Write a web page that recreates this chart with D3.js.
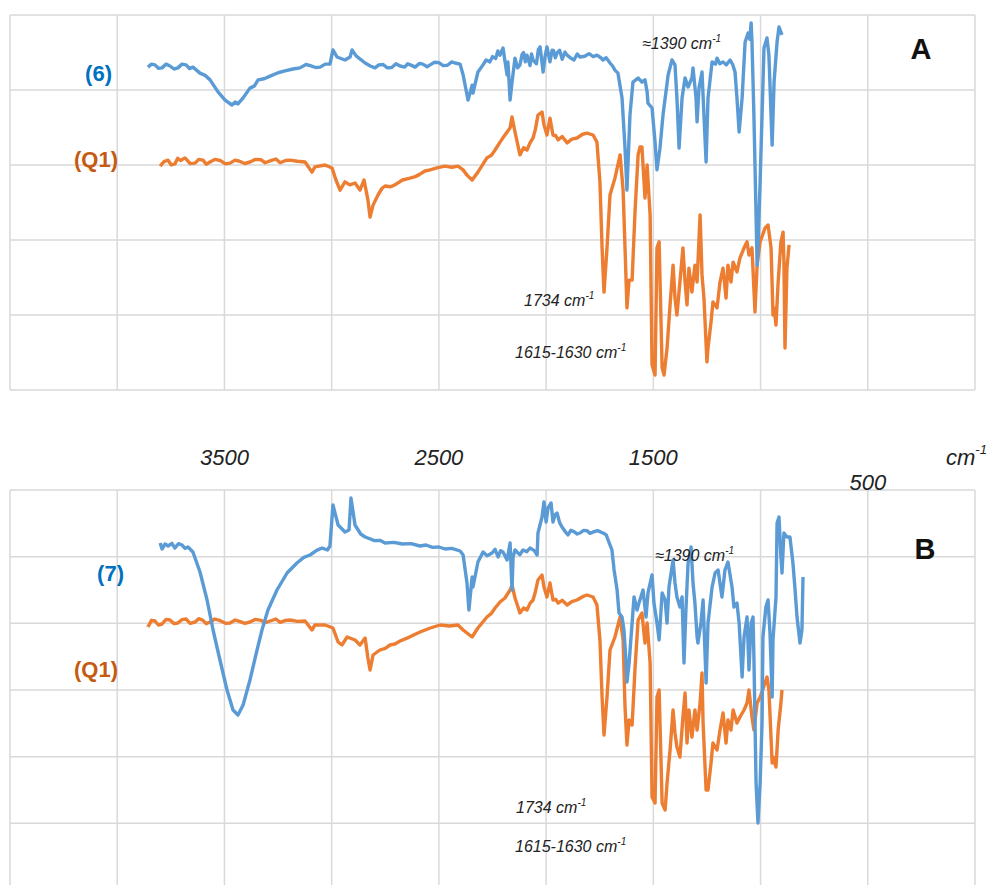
<!DOCTYPE html>
<html>
<head>
<meta charset="utf-8">
<script src="https://cdn.jsdelivr.net/npm/d3@7"></script>
<style>
  html, body { margin: 0; padding: 0; background: #fff; }
  svg { display: block; font-family: "Liberation Sans", Arial, sans-serif; }
</style>
</head>
<body>
<div id="chart"></div>
<script>
// wavenumber (cm-1), signal (arbitrary units, one grid band = 20)
const spectrum6 = [
  [3857,86.1],[3840,86.9],[3824,86.7],[3808,85.8],[3791,85.9],[3772,86.9],[3754,86.4],[3735,85.6],[3717,85.9],[3698,86.9],
  [3679,86.7],[3663,85.7],[3647,86.1],[3614,84.5],[3590,83.9],[3567,82.7],[3530,79.5],[3497,77.3],[3465,76.0],[3450,76.8],
  [3437,76.3],[3413,77.9],[3381,80.5],[3360,81.1],[3343,82.7],[3315,83.0],[3287,83.7],[3250,84.6],[3218,85.1],[3180,85.6],
  [3148,85.9],[3120,86.8],[3100,86.5],[3075,86.0],[3054,86.1],[3030,86.9],[3008,86.9],[2994,90.7],[2975,88.8],[2938,88.0],
  [2914,88.8],[2905,90.7],[2886,89.1],[2844,87.2],[2820,86.4],[2798,85.9],[2780,86.7],[2760,86.8],[2740,85.9],[2720,86.0],
  [2700,87.0],[2681,86.4],[2660,86.1],[2645,87.0],[2625,86.5],[2611,86.1],[2590,87.1],[2575,86.9],[2555,86.2],[2541,86.7],
  [2520,87.4],[2500,87.3],[2480,86.5],[2460,86.6],[2440,87.5],[2425,87.2],[2401,86.9],[2387,84.0],[2364,77.3],[2345,81.3],
  [2341,79.2],[2318,84.8],[2294,86.7],[2280,88.0],[2262,87.5],[2250,88.9],[2235,88.4],[2225,90.4],[2215,89.3],[2201,91.2],
  [2182,84.0],[2178,87.5],[2168,77.3],[2159,82.1],[2145,88.5],[2133,85.9],[2122,86.7],[2112,89.5],[2105,90.0],[2097,87.5],
  [2089,89.3],[2075,86.5],[2068,89.6],[2061,88.0],[2045,87.0],[2036,90.8],[2028,91.5],[2014,84.8],[2005,88.9],[1996,91.5],
  [1982,87.5],[1972,90.6],[1965,90.5],[1957,88.6],[1949,89.9],[1937,90.6],[1925,88.2],[1912,90.1],[1902,89.3],[1885,88.5],
  [1870,88.0],[1855,89.6],[1842,88.8],[1820,89.0],[1800,89.7],[1780,88.9],[1763,89.3],[1745,88.6],[1735,88.0],[1720,88.6],
  [1702,87.2],[1690,86.4],[1679,85.3],[1665,84.5],[1646,77.9],[1632,64.5],[1623,53.3],[1609,73.3],[1595,82.1],[1571,83.2],
  [1553,82.1],[1539,82.7],[1529,79.5],[1525,76.5],[1506,75.2],[1492,66.1],[1483,58.7],[1469,64.5],[1455,73.3],[1431,84.0],
  [1413,88.0],[1399,86.7],[1390,77.9],[1380,64.5],[1366,77.9],[1352,83.2],[1338,80.8],[1320,83.2],[1315,85.9],[1301,77.9],
  [1296,71.5],[1287,80.5],[1273,84.8],[1264,73.3],[1254,60.8],[1245,77.9],[1226,87.5],[1210,86.9],[1203,88.5],[1190,87.0],
  [1175,87.5],[1160,86.7],[1142,88.0],[1130,86.8],[1119,84.8],[1110,77.9],[1100,68.8],[1086,77.9],[1072,92.8],[1058,95.2],
  [1050,93.5],[1044,97.9],[1040,92.8],[1031,73.3],[1021,46.7],[1016,33.3],[1012,37.9],[1002,55.5],[993,73.3],[984,91.2],
  [970,93.9],[961,89.3],[951,73.3],[946,65.3],[937,82.1],[923,92.8],[914,96.8],[900,94.7]
];

const spectrumQ1a = [
  [3800,59.7],[3782,60.9],[3763,61.3],[3748,60.0],[3731,60.3],[3718,61.8],[3705,61.2],[3684,61.9],[3660,60.4],[3637,60.5],
  [3620,61.5],[3600,61.3],[3585,60.2],[3567,60.8],[3545,61.5],[3520,61.2],[3495,60.3],[3474,60.5],[3450,61.3],[3430,61.0],
  [3405,60.4],[3381,60.8],[3355,61.5],[3330,61.4],[3310,60.6],[3287,61.1],[3260,61.6],[3240,60.6],[3215,61.2],[3194,61.3],
  [3160,61.0],[3124,60.8],[3092,58.1],[3078,59.5],[3031,60.0],[2998,59.2],[2980,56.0],[2961,53.3],[2938,55.5],[2915,54.7],
  [2891,55.2],[2868,53.3],[2849,56.0],[2831,50.7],[2821,46.1],[2807,49.3],[2784,52.0],[2765,53.8],[2751,54.4],[2725,54.2],
  [2705,54.7],[2670,56.0],[2635,56.5],[2610,56.9],[2590,57.5],[2565,58.4],[2541,58.7],[2505,59.3],[2471,59.7],[2440,59.4],
  [2411,59.7],[2387,58.7],[2369,57.3],[2345,56.0],[2318,58.1],[2276,61.9],[2255,62.6],[2238,64.0],[2215,66.1],[2192,68.0],
  [2168,69.9],[2159,72.8],[2145,68.8],[2122,62.7],[2105,64.6],[2089,64.0],[2075,65.9],[2061,67.2],[2050,69.5],[2038,73.3],
  [2019,74.1],[2010,70.7],[1996,68.0],[1982,72.5],[1968,68.0],[1955,67.8],[1944,66.7],[1925,67.6],[1902,65.9],[1880,66.9],
  [1856,67.2],[1830,68.2],[1809,68.5],[1781,68.0],[1763,66.1],[1749,55.5],[1739,37.9],[1730,26.1],[1716,37.9],[1702,52.0],
  [1679,56.5],[1655,62.7],[1641,53.3],[1632,37.9],[1623,21.9],[1613,29.3],[1599,29.3],[1585,48.0],[1571,62.7],[1562,64.8],
  [1553,64.8],[1539,51.2],[1529,60.0],[1515,46.7],[1506,6.7],[1492,4.0],[1483,37.9],[1473,39.5],[1459,5.9],[1450,4.0],
  [1436,11.2],[1422,22.7],[1408,33.3],[1399,24.5],[1390,20.0],[1376,28.8],[1362,37.9],[1352,28.8],[1343,22.7],[1334,32.5],
  [1320,26.1],[1306,33.3],[1296,28.8],[1282,46.7],[1273,30.7],[1264,24.5],[1250,7.5],[1245,11.2],[1231,18.1],[1222,23.5],
  [1203,21.9],[1189,28.8],[1175,32.5],[1161,24.5],[1152,33.3],[1138,28.8],[1128,34.1],[1110,31.5],[1096,35.2],[1077,37.9],
  [1063,39.5],[1054,36.0],[1040,37.9],[1026,20.8],[1016,33.3],[1002,39.5],[979,43.2],[965,44.0],[951,37.9],[942,20.0],
  [937,21.9],[928,17.3],[918,28.8],[905,39.5],[895,42.1],[891,34.1],[886,11.2],[877,32.5],[867,38.7]
];

const spectrum7 = [
  [3800,104.1],[3791,102.3],[3777,103.8],[3763,103.2],[3745,104.0],[3731,102.6],[3714,103.9],[3698,103.5],[3684,102.5],[3670,102.9],
  [3647,101.4],[3614,95.4],[3581,87.0],[3553,78.0],[3521,69.0],[3488,60.0],[3460,54.0],[3437,52.5],[3413,55.5],[3381,63.0],
  [3348,72.0],[3325,78.0],[3297,84.0],[3255,90.0],[3208,95.1],[3162,98.1],[3130,99.8],[3101,100.5],[3070,101.9],[3045,102.6],
  [3020,102.0],[3008,103.2],[2994,115.5],[2970,109.5],[2938,107.4],[2919,108.0],[2910,117.6],[2891,109.5],[2865,106.8],[2844,105.9],
  [2800,104.8],[2775,104.9],[2751,104.1],[2710,104.3],[2670,103.8],[2630,103.9],[2588,103.2],[2560,103.5],[2530,102.8],[2500,102.9],
  [2471,102.3],[2440,102.5],[2401,101.7],[2387,100.5],[2369,92.1],[2360,84.0],[2345,93.9],[2341,90.9],[2318,98.4],[2294,101.4],
  [2275,100.3],[2252,101.1],[2238,102.2],[2224,99.9],[2212,101.8],[2201,101.4],[2182,99.0],[2168,104.1],[2159,90.0],[2154,99.9],
  [2145,102.0],[2136,101.4],[2122,100.6],[2108,102.0],[2090,101.5],[2075,102.6],[2055,101.8],[2042,100.5],[2038,107.1],[2019,111.9],
  [2010,116.4],[2000,110.4],[1991,114.6],[1977,116.1],[1968,110.4],[1958,112.6],[1949,113.1],[1937,110.2],[1926,108.9],[1912,107.6],
  [1898,106.5],[1885,107.9],[1870,107.5],[1855,106.8],[1842,107.1],[1825,107.9],[1810,107.8],[1795,107.0],[1781,107.4],[1760,107.8],
  [1735,107.1],[1720,106.6],[1711,105.0],[1693,102.0],[1683,96.0],[1669,90.0],[1660,83.1],[1646,81.9],[1637,78.0],[1627,68.1],
  [1623,62.4],[1613,68.1],[1599,80.1],[1590,87.9],[1576,84.0],[1567,86.1],[1548,90.0],[1534,81.9],[1525,89.1],[1506,94.5],
  [1497,86.1],[1483,80.1],[1473,75.0],[1459,89.1],[1445,87.0],[1436,80.1],[1427,90.9],[1408,99.0],[1399,92.1],[1390,87.9],
  [1376,84.9],[1366,87.9],[1357,68.1],[1348,84.0],[1338,98.1],[1324,102.9],[1315,92.1],[1306,86.1],[1296,75.9],[1292,74.1],
  [1278,80.1],[1268,87.0],[1254,62.1],[1245,80.1],[1226,90.9],[1212,95.1],[1198,96.0],[1180,87.9],[1166,96.0],[1152,98.4],
  [1133,90.9],[1124,84.9],[1110,86.1],[1100,80.1],[1086,63.9],[1077,75.9],[1063,81.9],[1054,66.0],[1044,80.1],[1035,81.9],
  [1031,69.9],[1021,32.1],[1012,20.1],[1002,32.1],[993,50.1],[989,75.9],[975,84.9],[965,87.0],[956,77.1],[946,57.9],
  [942,75.0],[928,87.9],[923,110.1],[914,111.9],[905,99.9],[900,95.1],[891,107.1],[877,105.9],[863,105.9],[849,98.1],
  [839,90.0],[830,81.9],[816,74.1],[807,78.0],[802,93.9]
];

const spectrumQ1b = [
  [3857,78.9],[3840,80.9],[3824,80.7],[3808,79.5],[3791,79.8],[3772,81.2],[3754,81.0],[3735,79.9],[3717,80.1],[3698,81.1],
  [3679,81.3],[3660,80.0],[3637,80.4],[3620,81.4],[3600,80.9],[3585,79.9],[3567,80.4],[3545,81.3],[3520,80.8],[3495,80.0],
  [3474,80.1],[3450,81.0],[3430,80.6],[3405,80.0],[3381,80.4],[3355,81.2],[3330,80.9],[3310,80.2],[3287,80.7],[3260,81.3],
  [3240,80.3],[3215,80.9],[3194,81.0],[3160,80.6],[3124,80.7],[3092,78.0],[3078,79.5],[3031,79.5],[2994,78.6],[2970,74.4],
  [2952,73.5],[2928,75.9],[2891,75.0],[2868,73.5],[2844,75.6],[2831,69.6],[2821,66.0],[2807,70.5],[2775,72.0],[2750,72.5],
  [2728,73.5],[2705,73.8],[2681,74.7],[2640,75.8],[2588,77.4],[2540,78.6],[2495,79.5],[2450,79.2],[2411,79.5],[2387,78.0],
  [2369,77.1],[2345,75.9],[2318,78.6],[2276,81.9],[2255,83.0],[2238,84.6],[2215,86.4],[2192,87.6],[2168,90.0],[2159,91.5],
  [2145,87.6],[2122,83.1],[2105,84.6],[2089,84.0],[2075,86.0],[2061,87.0],[2050,89.5],[2038,93.0],[2019,94.5],[2010,90.9],
  [1996,87.9],[1982,92.1],[1968,87.0],[1955,87.2],[1944,86.1],[1925,86.9],[1902,85.5],[1880,86.5],[1856,87.0],[1830,88.0],
  [1809,88.5],[1781,87.9],[1763,85.5],[1749,75.0],[1739,57.9],[1730,46.5],[1716,57.9],[1702,72.0],[1679,75.9],[1655,81.9],
  [1641,75.0],[1632,54.9],[1623,43.5],[1613,51.0],[1599,49.5],[1585,66.9],[1571,81.0],[1553,83.1],[1539,74.1],[1529,80.1],
  [1515,68.1],[1506,27.9],[1492,26.1],[1483,57.9],[1473,60.0],[1459,26.1],[1445,24.0],[1436,32.1],[1422,42.0],[1408,54.0],
  [1399,47.1],[1390,42.9],[1376,39.9],[1362,51.9],[1352,59.1],[1343,44.1],[1334,54.0],[1320,45.9],[1306,54.0],[1296,48.0],
  [1282,56.1],[1273,65.1],[1268,50.1],[1254,30.0],[1245,30.0],[1231,38.1],[1222,44.1],[1203,42.0],[1189,48.0],[1175,53.1],
  [1161,44.1],[1152,51.0],[1138,48.0],[1128,54.0],[1110,50.1],[1096,51.9],[1077,54.0],[1063,56.1],[1054,60.0],[1040,51.9],
  [1031,48.0],[1016,56.1],[1002,57.9],[979,62.1],[970,63.9],[961,60.0],[946,38.1],[942,39.9],[928,36.9],[918,48.0],
  [905,56.1],[900,60.0]
];

const xTickLabels = [3500, 2500, 1500, 500];
const xGridStep = 500;
const yGridStep = 20;

const W = 991, H = 885;
const blue = "#5b9bd5", orange = "#ed7d31";
const blueText = "#0070c0", orangeText = "#c55a11";

const svg = d3.select("#chart").append("svg")
  .attr("width", W)
  .attr("height", H);

const x = d3.scaleLinear().domain([4500, 0]).range([10, 975]);

const panels = [
  {
    name: "A",
    y: d3.scaleLinear().domain([0, 100]).range([390, 15]),
    series: [
      {data: spectrumQ1a, color: orange},
      {data: spectrum6, color: blue}
    ],
    labels: [
      {text: "(6)", x: 112, y: 81, color: blueText},
      {text: "(Q1)", x: 118, y: 167, color: orangeText}
    ],
    notes: [
      {text: "\u22481390 cm", x: 642, y: 49},
      {text: "1734 cm", x: 524, y: 306},
      {text: "1615-1630 cm", x: 515, y: 358}
    ],
    letter: {x: 921, y: 59}
  },
  {
    name: "B",
    y: d3.scaleLinear().domain([0, 120]).range([890, 490]),
    series: [
      {data: spectrumQ1b, color: orange},
      {data: spectrum7, color: blue}
    ],
    labels: [
      {text: "(7)", x: 124, y: 581, color: blueText},
      {text: "(Q1)", x: 118, y: 677, color: orangeText}
    ],
    notes: [
      {text: "\u22481390 cm", x: 655, y: 561},
      {text: "1734 cm", x: 516, y: 813},
      {text: "1615-1630 cm", x: 515, y: 852}
    ],
    letter: {x: 925, y: 559}
  }
];

panels.forEach(p => {
  const g = svg.append("g");
  const [y0, y1] = p.y.range();

  // gridlines
  g.append("g").selectAll("line")
    .data(d3.range(p.y.domain()[0], p.y.domain()[1] + 1, yGridStep))
    .join("line")
    .attr("x1", x.range()[0]).attr("x2", x.range()[1])
    .attr("y1", d => p.y(d)).attr("y2", d => p.y(d))
    .attr("stroke", "#d9d9d9").attr("stroke-width", 1.5);

  g.append("g").selectAll("line")
    .data(d3.range(0, 4501, xGridStep))
    .join("line")
    .attr("x1", d => x(d)).attr("x2", d => x(d))
    .attr("y1", y1).attr("y2", y0)
    .attr("stroke", "#d9d9d9").attr("stroke-width", 1.5);

  const line = d3.line()
    .x(d => x(d[0]))
    .y(d => p.y(d[1]));

  p.series.forEach(s => {
    g.append("path")
      .datum(s.data)
      .attr("d", line)
      .attr("fill", "none")
      .attr("stroke", s.color)
      .attr("stroke-width", 3.4)
      .attr("stroke-linejoin", "round");
  });

  g.selectAll(".lbl")
    .data(p.labels)
    .join("text")
    .attr("x", d => d.x).attr("y", d => d.y)
    .attr("text-anchor", "end")
    .attr("font-size", 22)
    .attr("font-weight", "bold")
    .attr("fill", d => d.color)
    .text(d => d.text);

  p.notes.forEach(n => {
    const t = g.append("text")
      .attr("x", n.x).attr("y", n.y)
      .attr("font-size", 16)
      .attr("font-style", "italic")
      .attr("fill", "#222")
      .text(n.text);
    t.append("tspan")
      .attr("dy", -7)
      .attr("font-size", 10)
      .text("-1");
  });

  g.append("text")
    .attr("x", p.letter.x).attr("y", p.letter.y)
    .attr("text-anchor", "middle")
    .attr("font-size", 29)
    .attr("font-weight", "bold")
    .attr("fill", "#111")
    .text(p.name);
});

// wavenumber labels between the panels
svg.append("g").selectAll("text")
  .data(xTickLabels)
  .join("text")
  .attr("x", d => x(d))
  .attr("y", (d, i) => i === xTickLabels.length - 1 ? 490 : 465)
  .attr("text-anchor", "middle")
  .attr("font-size", 22)
  .attr("font-style", "italic")
  .attr("fill", "#222")
  .text(d => d);

const unit = svg.append("text")
  .attr("x", 946).attr("y", 465)
  .attr("font-size", 22)
  .attr("font-style", "italic")
  .attr("fill", "#222")
  .text("cm");
unit.append("tspan")
  .attr("dy", -11)
  .attr("font-size", 13)
  .text("-1");
</script>
</body>
</html>
